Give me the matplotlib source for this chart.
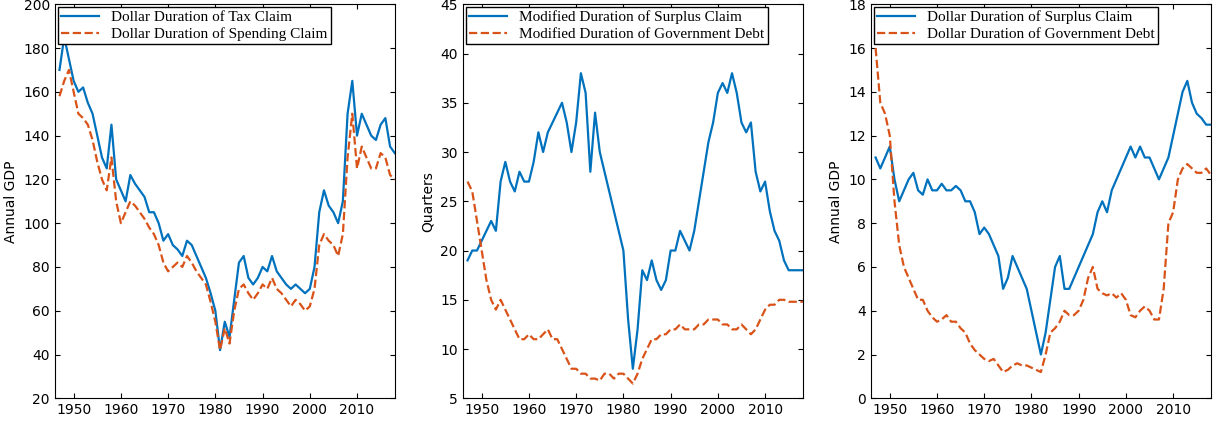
import matplotlib
matplotlib.use("Agg")
import matplotlib.pyplot as plt
import numpy as np

years = list(range(1947, 2019))
tax = [170,185,175,165,160,162,155,150,140,130,125,145,120,115,110,122,118,115,112,105,105,100,92,95,90,88,85,92,90,85,80,75,68,60,42,55,48,65,82,85,75,72,75,80,78,85,78,75,72,70,72,70,68,70,80,105,115,108,105,100,110,150,165,140,150,145,140,138,145,148,135,132]
spend = [158,165,170,160,150,148,145,138,128,120,115,130,110,100,105,110,108,105,102,98,95,90,82,78,80,82,80,85,82,78,75,72,64,55,42,52,45,60,70,72,68,65,68,72,70,75,70,68,65,62,65,63,60,62,70,90,95,92,90,85,95,130,150,125,135,130,125,125,132,130,122,120]
mod_surplus = [19,20,20,21,22,23,22,27,29,27,26,28,27,27,29,32,30,32,33,34,35,33,30,33,38,36,28,34,30,28,26,24,22,20,13,8,12,18,17,19,17,16,17,20,20,22,21,20,22,25,28,31,33,36,37,36,38,36,33,32,33,28,26,27,24,22,21,19,18,18,18,18]
mod_debt = [27,26,23,20,17,15,14,15,14,13,12,11,11,11.5,11,11,11.5,12,11,11,10,9,8,8,7.5,7.5,7,7,6.8,7.5,7.5,7,7.5,7.5,7,6.5,7.5,9,10,11,11,11.5,11.5,12,12,12.5,12,12,12,12.5,12.5,13,13,13,12.5,12.5,12,12,12.5,12,11.5,12,13,14,14.5,14.5,15,15,14.8,14.8,14.8,14.8]
dol_surplus = [11,10.5,11,11.5,10,9,9.5,10,10.3,9.5,9.3,10,9.5,9.5,9.8,9.5,9.5,9.7,9.5,9,9,8.5,7.5,7.8,7.5,7,6.5,5,5.5,6.5,6,5.5,5,4,3,2,3,4.5,6,6.5,5,5,5.5,6,6.5,7,7.5,8.5,9,8.5,9.5,10,10.5,11,11.5,11,11.5,11,11,10.5,10,10.5,11,12,13,14,14.5,13.5,13,12.8,12.5,12.5]
dol_debt = [16,13.5,13,12,9,7,6,5.5,5,4.5,4.5,4,3.7,3.5,3.6,3.8,3.5,3.5,3.2,3,2.5,2.2,2,1.8,1.7,1.8,1.5,1.2,1.3,1.5,1.6,1.5,1.5,1.4,1.3,1.2,2,3,3.2,3.5,4,3.8,3.8,4,4.5,5.5,6,5,4.8,4.7,4.8,4.6,4.8,4.5,3.8,3.7,4,4.2,4,3.6,3.6,5,8,8.5,10,10.5,10.7,10.5,10.3,10.3,10.5,10.2]

blue, red = "#0072BD", "#D95319"
panels = [
    (tax, spend, "Dollar Duration of Tax Claim", "Dollar Duration of Spending Claim", "Annual GDP", (20, 200), np.arange(20, 201, 20)),
    (mod_surplus, mod_debt, "Modified Duration of Surplus Claim", "Modified Duration of Government Debt", "Quarters", (5, 45), np.arange(5, 46, 5)),
    (dol_surplus, dol_debt, "Dollar Duration of Surplus Claim", "Dollar Duration of Government Debt", "Annual GDP", (0, 18), np.arange(0, 19, 2)),
]
fig, axes = plt.subplots(1, 3, figsize=(12.17, 4.26), dpi=100)
for ax, (b, r, lb, lr, yl, ylim, yt) in zip(axes, panels):
    ax.plot(years, b, color=blue, lw=1.6, label=lb)
    ax.plot(years, r, color=red, lw=1.6, ls="--", label=lr)
    ax.set_xlim(1946, 2018)
    ax.set_ylim(*ylim)
    ax.set_yticks(yt)
    ax.set_xticks(range(1950, 2011, 10))
    ax.set_ylabel(yl, fontsize=10)
    ax.tick_params(labelsize=10, direction="in", top=True, right=True)
    ax.legend(loc="upper left", prop={"family": "Liberation Serif", "size": 11},
              fancybox=False, edgecolor="black", borderaxespad=0.2, handlelength=2.5,
              labelspacing=0.2, borderpad=0.2, framealpha=1)
fig.subplots_adjust(left=0.045, right=0.995, bottom=0.065, top=0.99, wspace=0.2)
fig.savefig("out.png")
